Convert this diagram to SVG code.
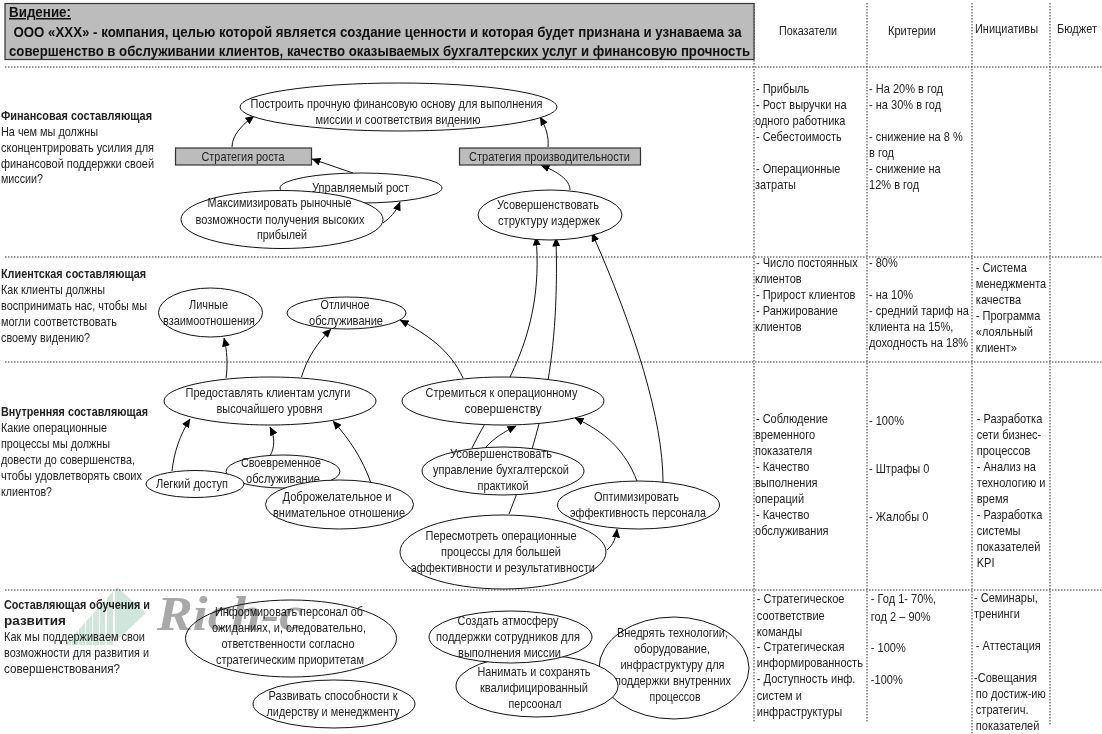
<svg xmlns="http://www.w3.org/2000/svg" width="1102" height="734" viewBox="0 0 1102 734">
<style>
text{font-family:"Liberation Sans",Arial,sans-serif;font-size:13px;fill:#222}
.m{text-anchor:middle}
.b{font-weight:bold}
.h{font-weight:bold;font-size:15px;fill:#111}
.col text{font-size:12px}
.n{fill:#fff;stroke:#111;stroke-width:1}
.r{fill:#bcbcbc;stroke:#333;stroke-width:1.2}
.d{stroke:#333;stroke-width:1;stroke-dasharray:1.5 1.5;fill:none}
.c{fill:none;stroke:#111;stroke-width:1}
.a{marker-end:url(#arr)}
.w{mix-blend-mode:multiply}
</style>
<defs>
<marker id="arr" markerUnits="userSpaceOnUse" markerWidth="9" markerHeight="8" refX="8.500" refY="4" orient="auto"><path d="M0 0L9 4L0 8Z" fill="#000"/></marker>
<clipPath id="bars"><rect x="65" y="580" width="6" height="70"/><rect x="72" y="580" width="6" height="70"/><rect x="79" y="580" width="6" height="70"/><rect x="86" y="580" width="6" height="70"/><rect x="93" y="580" width="6" height="70"/><rect x="100" y="580" width="5" height="70"/><rect x="107" y="580" width="6" height="70"/><rect x="115" y="580" width="32" height="70"/></clipPath>
</defs>

<g id="grid">
<path class="d" d="M5 67H1102M5 257H1102M5 362H1102M5 590H1102"/>
<path class="d" d="M754 3V722M867 3V722M972 3V734M1050 3V725"/>
</g>

<g id="connectors">
<path class="c a" d="M232 147C232 135 243 124 254 116"/>
<path class="c a" d="M548 147C549 137 546 127 540 117"/>
<path class="c a" d="M353 173L312 159"/>
<path class="c a" d="M383 223C390 218 396 212 400 202"/>
<path class="c a" d="M570 190C570 180 558 172 541 165"/>
<path class="c a" d="M472 448C498 395 545 340 536 237"/>
<path class="c a" d="M509 514C538 440 560 370 556 238"/>
<path class="c a" d="M663 482C663 420 635 330 592 233"/>
<path class="c a" d="M226 378C228 365 227 350 224 338"/>
<path class="c a" d="M301.500 377C307 358 318 342 331 329"/>
<path class="c a" d="M463 378C450 350 428 335 400 320"/>
<path class="c a" d="M172 471C174 452 180 435 190 419"/>
<path class="c a" d="M270 456C275 447 275 437 270 427"/>
<path class="c a" d="M371 483C362 458 350 440 333 421"/>
<path class="c a" d="M486 447C494 438 504 432 516 426"/>
<path class="c a" d="M637 481C625 450 605 432 575 418"/>
<path class="c a" d="M607 550C613 545 616 538 617 529"/>
</g>

<g id="vision">
<rect class="r" x="5" y="3.500" width="749" height="56"/>
<text class="h" x="9" y="17" textLength="62" lengthAdjust="spacingAndGlyphs" text-decoration="underline">Видение:</text>
<text class="h" x="13.500" y="37" textLength="728" lengthAdjust="spacingAndGlyphs">ООО «ХХХ» - компания, целью которой является создание ценности  и которая будет признана и узнаваема за</text>
<text class="h" x="9" y="56" textLength="741" lengthAdjust="spacingAndGlyphs">совершенство в обслуживании клиентов, качество оказываемых бухгалтерских услуг и финансовую прочность</text>
</g>

<g id="perspective-labels">
<text class="b" x="1" y="120" textLength="151" lengthAdjust="spacingAndGlyphs">Финансовая составляющая</text>
<text x="1" y="136" textLength="97" lengthAdjust="spacingAndGlyphs">На чем мы должны</text>
<text x="1" y="152" textLength="153" lengthAdjust="spacingAndGlyphs">сконцентрировать усилия для</text>
<text x="1" y="168" textLength="153" lengthAdjust="spacingAndGlyphs">финансовой поддержки своей</text>
<text x="1" y="183" textLength="42" lengthAdjust="spacingAndGlyphs">миссии?</text>
<text class="b" x="1" y="278" textLength="145" lengthAdjust="spacingAndGlyphs">Клиентская составляющая</text>
<text x="1" y="294" textLength="104" lengthAdjust="spacingAndGlyphs">Как клиенты должны</text>
<text x="1" y="310" textLength="146" lengthAdjust="spacingAndGlyphs">воспринимать нас, чтобы мы</text>
<text x="1" y="326" textLength="116" lengthAdjust="spacingAndGlyphs">могли соответствовать</text>
<text x="1" y="342" textLength="89" lengthAdjust="spacingAndGlyphs">своему видению?</text>
<text class="b" x="1" y="416" textLength="147" lengthAdjust="spacingAndGlyphs">Внутренняя составляющая</text>
<text x="1" y="432" textLength="106" lengthAdjust="spacingAndGlyphs">Какие операционные</text>
<text x="1" y="448" textLength="109" lengthAdjust="spacingAndGlyphs">процессы мы должны</text>
<text x="1" y="464" textLength="134" lengthAdjust="spacingAndGlyphs">довести до совершенства,</text>
<text x="1" y="480" textLength="141" lengthAdjust="spacingAndGlyphs">чтобы удовлетворять своих</text>
<text x="1" y="496" textLength="51" lengthAdjust="spacingAndGlyphs">клиентов?</text>
<text class="b" x="4" y="609" textLength="146" lengthAdjust="spacingAndGlyphs">Составляющая обучения и</text>
<text class="b" x="4" y="625" textLength="62" lengthAdjust="spacingAndGlyphs">развития</text>
<text x="4" y="641" textLength="141" lengthAdjust="spacingAndGlyphs">Как мы поддерживаем свои</text>
<text x="4" y="657" textLength="145" lengthAdjust="spacingAndGlyphs">возможности для развития и</text>
<text x="4" y="673" textLength="116" lengthAdjust="spacingAndGlyphs">совершенствования?</text>
</g>

<g id="n-foundation"><ellipse class="n" cx="398.500" cy="107" rx="158.500" ry="24"/>
<text class="m" x="396.500" y="108" textLength="292" lengthAdjust="spacingAndGlyphs">Построить прочную финансовую основу для выполнения</text>
<text class="m" x="398" y="124" textLength="165" lengthAdjust="spacingAndGlyphs">миссии и соответствия видению</text></g>
<g id="n-growth-strategy"><rect class="r" x="175.500" y="148" width="136" height="17"/>
<text class="m" x="243" y="161" textLength="83" lengthAdjust="spacingAndGlyphs">Стратегия роста</text></g>
<g id="n-productivity-strategy"><rect class="r" x="459.500" y="148" width="181" height="17"/>
<text class="m" x="549.500" y="161" textLength="161" lengthAdjust="spacingAndGlyphs">Стратегия производительности</text></g>
<g id="n-managed-growth"><ellipse class="n" cx="361" cy="188" rx="81" ry="15"/>
<text class="m" x="360.500" y="192" textLength="97" lengthAdjust="spacingAndGlyphs">Управляемый рост</text></g>
<g id="n-maximize"><ellipse class="n" cx="282" cy="219.500" rx="101" ry="29"/>
<text class="m" x="279.500" y="207" textLength="144" lengthAdjust="spacingAndGlyphs">Максимизировать рыночные</text>
<text class="m" x="280" y="224" textLength="169" lengthAdjust="spacingAndGlyphs">возможности получения высоких</text>
<text class="m" x="282" y="239" textLength="50" lengthAdjust="spacingAndGlyphs">прибылей</text></g>
<g id="n-cost"><ellipse class="n" cx="550" cy="215" rx="72" ry="25"/>
<text class="m" x="548" y="209" textLength="102" lengthAdjust="spacingAndGlyphs">Усовершенствовать</text>
<text class="m" x="549" y="225" textLength="102" lengthAdjust="spacingAndGlyphs">структуру издержек</text></g>

<g id="n-personal"><ellipse class="n" cx="210.500" cy="312.500" rx="52" ry="24.500"/>
<text class="m" x="208.500" y="309" textLength="39" lengthAdjust="spacingAndGlyphs">Личные</text>
<text class="m" x="209" y="325" textLength="92" lengthAdjust="spacingAndGlyphs">взаимоотношения</text></g>
<g id="n-excellent"><ellipse class="n" cx="346.500" cy="313" rx="59.500" ry="16"/>
<text class="m" x="345" y="309" textLength="49" lengthAdjust="spacingAndGlyphs">Отличное</text>
<text class="m" x="346" y="325" textLength="74" lengthAdjust="spacingAndGlyphs">обслуживание</text></g>

<g id="n-provide"><ellipse class="n" cx="270" cy="401" rx="106" ry="24"/>
<text class="m" x="268" y="397" textLength="165" lengthAdjust="spacingAndGlyphs">Предоставлять клиентам услуги</text>
<text class="m" x="269.500" y="413" textLength="106" lengthAdjust="spacingAndGlyphs">высочайшего уровня</text></g>
<g id="n-operational"><ellipse class="n" cx="503" cy="401" rx="101" ry="24"/>
<text class="m" x="501.500" y="397" textLength="152" lengthAdjust="spacingAndGlyphs">Стремиться к операционному</text>
<text class="m" x="503" y="413" textLength="77" lengthAdjust="spacingAndGlyphs">совершенству</text></g>
<g id="n-timely"><ellipse class="n" cx="283" cy="471.500" rx="57" ry="16.500"/>
<text class="m" x="281" y="467" textLength="80" lengthAdjust="spacingAndGlyphs">Своевременное</text>
<text class="m" x="283" y="483" textLength="74" lengthAdjust="spacingAndGlyphs">обслуживание</text></g>
<g id="n-access"><ellipse class="n" cx="195" cy="484" rx="49" ry="13.500"/>
<text class="m" x="192" y="488" textLength="72" lengthAdjust="spacingAndGlyphs">Легкий доступ</text></g>
<g id="n-friendly"><ellipse class="n" cx="339.500" cy="504.500" rx="74" ry="24.500"/>
<text class="m" x="337" y="501" textLength="109" lengthAdjust="spacingAndGlyphs">Доброжелательное и</text>
<text class="m" x="339" y="517" textLength="132" lengthAdjust="spacingAndGlyphs">внимательное отношение</text></g>
<g id="n-accounting"><ellipse class="n" cx="503" cy="471" rx="81" ry="24"/>
<text class="m" x="501" y="458" textLength="102" lengthAdjust="spacingAndGlyphs">Усовершенствовать</text>
<text class="m" x="501" y="474" textLength="136" lengthAdjust="spacingAndGlyphs">управление бухгалтерской</text>
<text class="m" x="503" y="490" textLength="51" lengthAdjust="spacingAndGlyphs">практикой</text></g>
<g id="n-staff"><ellipse class="n" cx="638.500" cy="505" rx="81" ry="24"/>
<text class="m" x="636.500" y="501" textLength="85" lengthAdjust="spacingAndGlyphs">Оптимизировать</text>
<text class="m" x="638" y="517" textLength="136" lengthAdjust="spacingAndGlyphs">эффективность персонала</text></g>
<g id="n-review"><ellipse class="n" cx="503" cy="552" rx="103" ry="37"/>
<text class="m" x="501" y="540" textLength="151" lengthAdjust="spacingAndGlyphs">Пересмотреть операционные</text>
<text class="m" x="501" y="556" textLength="120" lengthAdjust="spacingAndGlyphs">процессы для большей</text>
<text class="m" x="503" y="572" textLength="184" lengthAdjust="spacingAndGlyphs">эффективности и результативности</text></g>

<g id="n-inform"><ellipse class="n" cx="291" cy="638.500" rx="105.500" ry="38.500"/>
<text class="m" x="289" y="616" textLength="148" lengthAdjust="spacingAndGlyphs">Информировать персонал об</text>
<text class="m" x="289" y="632" textLength="154" lengthAdjust="spacingAndGlyphs">ожиданиях, и, следовательно,</text>
<text class="m" x="288" y="648" textLength="133" lengthAdjust="spacingAndGlyphs">ответственности согласно</text>
<text class="m" x="290" y="664" textLength="148" lengthAdjust="spacingAndGlyphs">стратегическим приоритетам</text></g>
<g id="n-leadership"><ellipse class="n" cx="334" cy="704" rx="81" ry="24"/>
<text class="m" x="333" y="700" textLength="129" lengthAdjust="spacingAndGlyphs">Развивать способности к</text>
<text class="m" x="333" y="716" textLength="133" lengthAdjust="spacingAndGlyphs">лидерству и менеджменту</text></g>
<g id="n-technology"><ellipse class="n" cx="674" cy="668" rx="75" ry="51"/>
<text class="m" x="672.500" y="637" textLength="111" lengthAdjust="spacingAndGlyphs">Внедрять технологии,</text>
<text class="m" x="672" y="653" textLength="76" lengthAdjust="spacingAndGlyphs">оборудование,</text>
<text class="m" x="672.500" y="669" textLength="104" lengthAdjust="spacingAndGlyphs">инфраструктуру для</text>
<text class="m" x="673" y="685" textLength="116" lengthAdjust="spacingAndGlyphs">поддержки внутренних</text>
<text class="m" x="675" y="701" textLength="51" lengthAdjust="spacingAndGlyphs">процессов</text></g>
<g id="n-hire"><ellipse class="n" cx="537" cy="686" rx="81" ry="31"/>
<text class="m" x="534" y="676" textLength="113" lengthAdjust="spacingAndGlyphs">Нанимать и сохранять</text>
<text class="m" x="534" y="692" textLength="108" lengthAdjust="spacingAndGlyphs">квалифицированный</text>
<text class="m" x="535" y="708" textLength="53" lengthAdjust="spacingAndGlyphs">персоонал</text></g>
<g id="n-climate"><ellipse class="n" cx="510.500" cy="637" rx="81.500" ry="26"/>
<text class="m" x="508" y="625" textLength="101" lengthAdjust="spacingAndGlyphs">Создать атмосферу</text>
<text class="m" x="508" y="641" textLength="144" lengthAdjust="spacingAndGlyphs">поддержки сотрудников для</text>
<text class="m" x="509.500" y="657" textLength="103" lengthAdjust="spacingAndGlyphs">выполнения миссии</text></g>

<g id="table-headers" class="col">
<text class="m" x="808" y="35" textLength="58" lengthAdjust="spacingAndGlyphs">Показатели</text>
<text class="m" x="912" y="35" textLength="48" lengthAdjust="spacingAndGlyphs">Критерии</text>
<text class="m" x="1006.500" y="33" textLength="63" lengthAdjust="spacingAndGlyphs">Инициативы</text>
<text class="m" x="1077" y="33" textLength="40" lengthAdjust="spacingAndGlyphs">Бюджет</text>
</g>

<g id="col-indicators" class="col" transform="translate(755 0) scale(.92 1)">
<text x="1" y="93">- Прибыль</text>
<text x="1" y="109">- Рост выручки на</text>
<text x="0" y="125">одного работника</text>
<text x="1" y="141">- Себестоимость</text>
<text x="1" y="173">- Операционные</text>
<text x="0" y="189">затраты</text>
<text x="1" y="267">- Число постоянных</text>
<text x="0" y="283">клиентов</text>
<text x="1" y="299">- Прирост клиентов</text>
<text x="1" y="315">- Ранжирование</text>
<text x="0" y="331">клиентов</text>
<text x="1" y="423">- Соблюдение</text>
<text x="0" y="439">временного</text>
<text x="0" y="455">показателя</text>
<text x="1" y="471">- Качество</text>
<text x="0" y="487">выполнения</text>
<text x="0" y="503">операций</text>
<text x="1" y="519">- Качество</text>
<text x="0" y="535">обслуживания</text>
<text x="2" y="603">- Стратегическое</text>
<text x="2" y="620">соответствие</text>
<text x="2" y="636">команды</text>
<text x="2" y="651">- Стратегическая</text>
<text x="2" y="667">информированность</text>
<text x="2" y="683">- Доступность инф.</text>
<text x="2" y="700">систем и</text>
<text x="2" y="716">инфраструктуры</text>
</g>

<g id="col-criteria" class="col" transform="translate(869 0) scale(.92 1)">
<text x="0" y="93">- На 20% в год</text>
<text x="0" y="109">- на 30% в год</text>
<text x="0" y="141">- снижение на 8 %</text>
<text x="0" y="157">в год</text>
<text x="0" y="173">- снижение на</text>
<text x="0" y="189">12% в год</text>
<text x="0" y="267">- 80%</text>
<text x="0" y="299">- на 10%</text>
<text x="0" y="315">- средний тариф на</text>
<text x="0" y="331">клиента на 15%,</text>
<text x="0" y="347">доходность на 18%</text>
<text x="0" y="425">- 100%</text>
<text x="0" y="473">- Штрафы 0</text>
<text x="0" y="521">- Жалобы 0</text>
<text x="2" y="603">- Год 1- 70%,</text>
<text x="2" y="621">год 2 – 90%</text>
<text x="2" y="652">- 100%</text>
<text x="2" y="684">-100%</text>
</g>

<g id="col-initiatives" class="col" transform="translate(974 0) scale(.92 1)">
<text x="2" y="272">- Система</text>
<text x="2" y="288">менеджмента</text>
<text x="2" y="304">качества</text>
<text x="2" y="320">- Программа</text>
<text x="2" y="336">«лояльный</text>
<text x="2" y="352">клиент»</text>
<text x="3" y="423">- Разработка</text>
<text x="3" y="439">сети бизнес-</text>
<text x="3" y="455">процессов</text>
<text x="3" y="471">- Анализ на</text>
<text x="3" y="487">технологию и</text>
<text x="3" y="503">время</text>
<text x="3" y="519">- Разработка</text>
<text x="3" y="535">системы</text>
<text x="3" y="551">показателей</text>
<text x="3" y="567">KPI</text>
<text x="0" y="602">- Семинары,</text>
<text x="0" y="618">тренинги</text>
<text x="2" y="650">- Аттестация</text>
<text x="0" y="682">-Совещания</text>
<text x="2" y="698">по достиж-ию</text>
<text x="2" y="714">стратегич.</text>
<text x="2" y="730">показателей</text>
</g>

<g id="watermark" class="w">
<polygon clip-path="url(#bars)" points="65,645 117,587 146,613 112,645" fill="#cfe6da"/>
<text x="157" y="630" textLength="146" lengthAdjust="spacingAndGlyphs" style="font-family:'Liberation Serif',serif;font-style:italic;font-weight:bold;font-size:48px;fill:#a8a8a8">Rich-c</text>
</g>
</svg>
